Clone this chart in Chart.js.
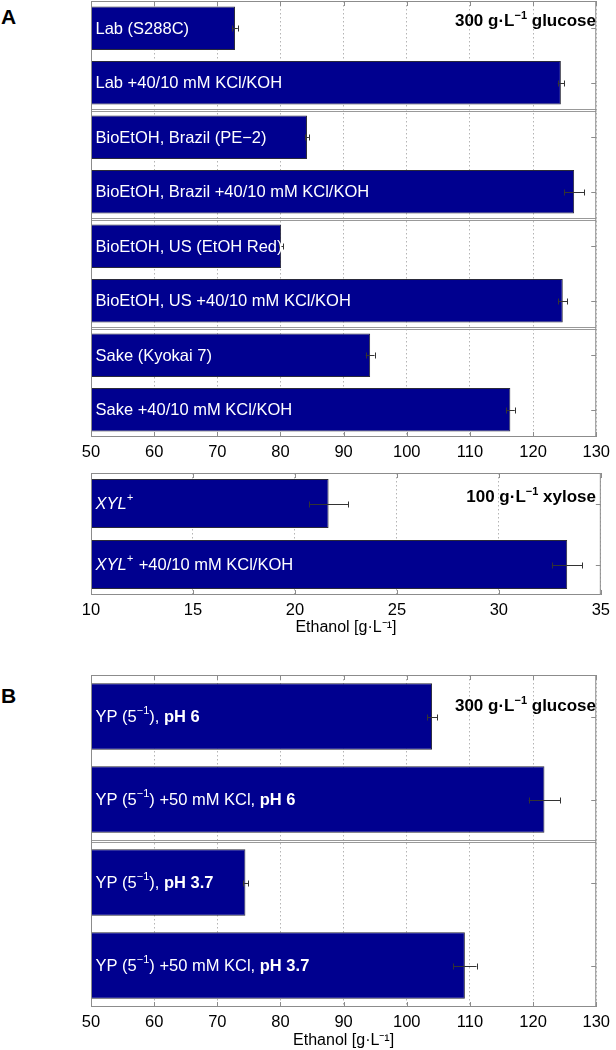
<!DOCTYPE html>
<html>
<head>
<meta charset="utf-8">
<script src="https://cdn.jsdelivr.net/npm/chart.js@4.4.1/dist/chart.umd.min.js"></script>
<style>
  html, body { margin: 0; padding: 0; background: #fff; }
  body { width: 616px; height: 1050px; position: relative; overflow: hidden; font-family: 'Liberation Sans', Arial, Helvetica, sans-serif; }
  .painel { position: absolute; left: 0; }
  .letra { position: absolute; left: 1px; font: bold 21px 'Liberation Sans', Arial, sans-serif; line-height: 1; }
  .nota { position: absolute; right: 20px; font: bold 17px 'Liberation Sans', Arial, sans-serif; line-height: 19px; white-space: nowrap; }
  .nota sup { font-size: 11px; line-height: 0; vertical-align: 7px; }
</style>
</head>
<body>

<div class="letra" style="top:6px">A</div>
<div class="letra" style="top:685px">B</div>

<canvas id="g-glicose" class="painel" style="top:0" width="616" height="470"></canvas>
<canvas id="g-xilose"  class="painel" style="top:460px" width="616" height="180"></canvas>
<canvas id="g-ph"      class="painel" style="top:660px" width="616" height="390"></canvas>

<div class="nota" style="top:11px">300 g·L<sup>−1</sup> glucose</div>
<div class="nota" style="top:487px">100 g·L<sup>−1</sup> xylose</div>
<div class="nota" style="top:696px">300 g·L<sup>−1</sup> glucose</div>

<script>
// painel A (glicose)
const rotulosA = [
  'Lab (S288C)', 'Lab +40/10 mM KCl/KOH',
  'BioEtOH, Brazil (PE−2)', 'BioEtOH, Brazil +40/10 mM KCl/KOH',
  'BioEtOH, US (EtOH Red)', 'BioEtOH, US +40/10 mM KCl/KOH',
  'Sake (Kyokai 7)', 'Sake +40/10 mM KCl/KOH',
]
const valoresA = [72.8, 124.4, 84.2, 126.5, 80.1, 124.7, 94.2, 116.4]
const errosA   = [0.45, 0.5, 0.3, 1.6, 0.3, 0.7, 0.7, 0.7]
const gruposA  = [2, 4, 6]

// painel A (xilose)
const rotulosX = ['XYL⁺', 'XYL⁺ +40/10 mM KCl/KOH']
const valoresX = [21.65, 33.35]
const errosX   = [0.95, 0.75]
const gruposX  = []

// painel B (pH)
const rotulosB = [
  'YP (5⁻¹), pH 6', 'YP (5⁻¹) +50 mM KCl, pH 6',
  'YP (5⁻¹), pH 3.7', 'YP (5⁻¹) +50 mM KCl, pH 3.7',
]
const valoresB = [104.0, 121.8, 74.45, 109.2]
const errosB   = [0.8, 2.5, 0.4, 1.85]
const gruposB  = [2]

// eixos: [min, max, passo]
const eixoGlicose = [50, 130, 10]
const eixoXilose  = [10, 35, 5]
const tituloEixo  = 'Ethanol [g·L⁻¹]'

const FONTE = "'Liberation Sans', Arial, Helvetica, sans-serif"
const AZUL  = '#00008f'
const CINZA = '#8c8c8c'
const SUP   = { '⁺': '+', '⁻': '−', '¹': '1' }

// rótulo dentro da barra: XYL em itálico, "pH x" em negrito, sobrescritos menores
function desenharRotulo(ctx, texto, x, y, tam) {
  const mBold = texto.match(/pH [\d.]+$/)
  const iniBold = mBold ? mBold.index : Infinity
  const fimItal = texto.startsWith('XYL') ? 4 : 0
  const trechos = []
  for (let i = 0; i < texto.length; i++) {
    const c = texto[i]
    const sup = c in SUP
    const est = (i >= iniBold ? 'bold ' : '') + (i < fimItal ? 'italic ' : '') + (sup ? 's' : 'n')
    const ult = trechos[trechos.length - 1]
    if (ult && ult.est === est) ult.t += sup ? SUP[c] : c
    else trechos.push({ est, t: sup ? SUP[c] : c, sup, bold: i >= iniBold, ital: i < fimItal })
  }
  let cx = x
  for (const t of trechos) {
    const sz = t.sup ? Math.round(tam * 0.68) : tam
    ctx.font = `${t.ital ? 'italic ' : ''}${t.bold ? 'bold ' : ''}${sz}px ${FONTE}`
    ctx.fillText(t.t, cx, t.sup ? y - tam * 0.38 : y)
    cx += ctx.measureText(t.t).width + (t.sup && t.t === '+' ? 1 : 0)
  }
}

const painelPlugin = {
  id: 'painel',
  beforeDatasetsDraw(chart) {
    const { ctx, chartArea: a, scales: { x, y } } = chart
    ctx.save()
    ctx.strokeStyle = CINZA
    ctx.lineWidth = 1
    ctx.beginPath()
    x.ticks.forEach(t => {
      const px = Math.round(x.getPixelForValue(t.value)) + 0.5
      ctx.moveTo(px, a.top); ctx.lineTo(px, a.top + 5)
      ctx.moveTo(px, a.bottom); ctx.lineTo(px, a.bottom - 5)
    })
    chart.data.labels.forEach((_, i) => {
      const py = Math.round(y.getPixelForValue(i)) + 0.5
      ctx.moveTo(a.left, py); ctx.lineTo(a.left + 5, py)
      ctx.moveTo(a.right, py); ctx.lineTo(a.right - 5, py)
    })
    ctx.stroke()
    ctx.restore()
  },
  afterDatasetsDraw(chart, args, opts) {
    const { ctx, chartArea: a, scales: { x, y } } = chart
    const valores = chart.data.datasets[0].data
    ctx.save()

    // barras de erro
    ctx.strokeStyle = '#333'
    ctx.lineWidth = 1
    ctx.beginPath()
    valores.forEach((v, i) => {
      const e = opts.erros[i]
      const py = Math.round(y.getPixelForValue(i)) + 0.5
      const x0 = x.getPixelForValue(v - e), x1 = x.getPixelForValue(v + e)
      ctx.moveTo(x0, py); ctx.lineTo(x1, py)
      ctx.moveTo(Math.round(x0) + 0.5, py - 3); ctx.lineTo(Math.round(x0) + 0.5, py + 3)
      ctx.moveTo(Math.round(x1) + 0.5, py - 3); ctx.lineTo(Math.round(x1) + 0.5, py + 3)
    })
    ctx.stroke()

    // separadores entre grupos
    ctx.strokeStyle = '#999'
    ctx.beginPath()
    opts.grupos.forEach(g => {
      const py = Math.round((y.getPixelForValue(g - 1) + y.getPixelForValue(g)) / 2)
      ctx.moveTo(a.left, py - 0.5); ctx.lineTo(a.right, py - 0.5)
      ctx.moveTo(a.left, py + 1.5); ctx.lineTo(a.right, py + 1.5)
    })
    ctx.stroke()

    // moldura
    ctx.strokeStyle = CINZA
    ctx.strokeRect(a.left + 0.5, a.top + 0.5, a.right - a.left - 1, a.bottom - a.top - 1)

    // rótulos dentro das barras
    ctx.fillStyle = '#fff'
    ctx.textBaseline = 'middle'
    chart.data.labels.forEach((r, i) => {
      desenharRotulo(ctx, r, a.left + 4.5, y.getPixelForValue(i) + 1, 16.5)
    })
    ctx.restore()
  },
}

function criarPainel(id, rotulos, valores, erros, grupos, eixo, cfg) {
  const [min, max, passo] = eixo
  return new Chart(document.getElementById(id), {
    type: 'bar',
    data: {
      labels: rotulos,
      datasets: [{
        data: valores,
        backgroundColor: AZUL,
        borderColor: '#2a2a3a',
        borderWidth: 1,
        borderSkipped: 'start',
        barPercentage: 0.8,
        categoryPercentage: 1,
      }],
    },
    options: {
      indexAxis: 'y',
      responsive: false,
      animation: false,
      layout: { padding: { left: 91, right: 14, top: cfg.topo, bottom: 0 } },
      plugins: {
        legend: { display: false },
        tooltip: { enabled: false },
        painel: { erros, grupos },
      },
      scales: {
        x: {
          type: 'linear',
          min, max,
          ticks: { stepSize: passo, padding: 6, color: '#000', font: { size: 16.5, family: FONTE } },
          grid: { color: '#b4b4b4', lineWidth: 1, drawTicks: false },
          border: { display: false, dash: [1.5, 2.5] },
          title: {
            display: !!cfg.titulo,
            text: tituloEixo,
            color: '#000',
            font: { size: 16, family: FONTE },
            padding: { top: 0, bottom: cfg.padTitulo || 0 },
          },
          afterFit: s => { s.height = cfg.alturaEixo },
        },
        y: { display: false },
      },
    },
    plugins: [painelPlugin],
  })
}

criarPainel('g-glicose', rotulosA, valoresA, errosA, gruposA, eixoGlicose, { topo: 1, alturaEixo: 33 })
criarPainel('g-xilose', rotulosX, valoresX, errosX, gruposX, eixoXilose, { topo: 13, alturaEixo: 45, titulo: true, padTitulo: 3 })
criarPainel('g-ph', rotulosB, valoresB, errosB, gruposB, eixoGlicose, { topo: 15, alturaEixo: 43, titulo: true, padTitulo: 0 })
</script>
</body>
</html>
